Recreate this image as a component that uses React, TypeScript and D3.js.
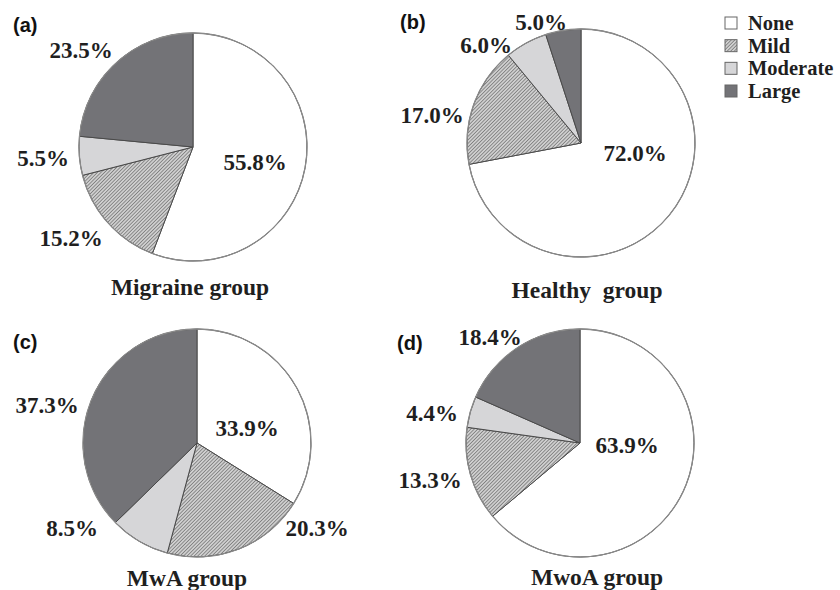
import React from "react";
import * as d3 from "d3";

const categories = ["None", "Mild", "Moderate", "Large"];
const panelTags = ["(a)", "(b)", "(c)", "(d)"];
const groupTitles = ["Migraine group", "Healthy\u00a0\u00a0group", "MwA group", "MwoA group"];
const migraineValues = [55.8, 15.2, 5.5, 23.5];
const healthyValues = [72.0, 17.0, 6.0, 5.0];
const mwaValues = [33.9, 20.3, 8.5, 37.3];
const mwoaValues = [63.9, 13.3, 4.4, 18.4];
const seriesValues = [migraineValues, healthyValues, mwaValues, mwoaValues];

// layout (not data)
const centers: [number, number][] = [
  [193, 147],
  [581, 143],
  [197, 443],
  [580, 443],
];
const radius = 114;
const tagPos: [number, number][] = [
  [13, 25],
  [400, 22],
  [13, 342],
  [397, 343],
];
// label centre offsets from pie centre, per category order
const labelOffsets: [number, number][][] = [
  [[62, 15], [-122, 91], [-150, 11], [-112, -97]],
  [[54, 10], [-149, -28], [-95, -98], [-40, -121]],
  [[50, -15], [120, 85], [-125, 85], [-150, -38]],
  [[47, 2], [-150, 37], [-148, -30], [-90, -106]],
];
const titleOffsets: [number, number][] = [
  [-3, 140],
  [6, 147],
  [-10, 135],
  [17, 134],
];

const fills = ["#ffffff", "url(#hatch)", "#d6d6d8", "#737377"];

export default function App() {
  const pie = d3
    .pie<number>()
    .sort(null)
    .value((d) => d)
    .startAngle(0)
    .endAngle(2 * Math.PI);
  const arc = d3.arc<d3.PieArcDatum<number>>().innerRadius(0).outerRadius(radius);
  const legendY = d3.scaleLinear().domain([0, 3]).range([23, 91]);
  const serif = "'Liberation Serif', 'Times New Roman', serif";
  const sans = "'Liberation Sans', Arial, sans-serif";
  const textColor = "#1f1f1f";

  return (
    <svg
      width={840}
      height={590}
      style={{ position: "absolute", left: 0, top: 0, background: "#fff" }}
    >
      <defs>
        <pattern
          id="hatch"
          patternUnits="userSpaceOnUse"
          width={2.5}
          height={2.5}
          patternTransform="rotate(45)"
        >
          <rect width={2.5} height={2.5} fill="#cfcfcf" />
          <line x1={0} y1={0} x2={0} y2={2.5} stroke="#555" strokeWidth={1.1} />
        </pattern>
      </defs>
      {seriesValues.map((vals, pi) => {
        const [cx, cy] = centers[pi];
        const arcs = pie(vals);
        return (
          <g key={pi}>
            <g transform={`translate(${cx},${cy})`}>
              {arcs.map((a, i) => (
                <path
                  key={i}
                  d={arc(a) || ""}
                  fill={fills[i]}
                  stroke="#4a4a4a"
                  strokeWidth={1}
                />
              ))}
              <circle r={radius} fill="none" stroke="#8a8a8a" strokeWidth={1.3} />
              {arcs.map((a, i) => (
                <text
                  key={"l" + i}
                  x={labelOffsets[pi][i][0]}
                  y={labelOffsets[pi][i][1]}
                  textAnchor="middle"
                  dominantBaseline="central"
                  fontFamily={serif}
                  fontWeight="bold"
                  fontSize={23}
                  fill={textColor}
                >
                  {a.data.toFixed(1) + "%"}
                </text>
              ))}
              <text
                x={titleOffsets[pi][0]}
                y={titleOffsets[pi][1]}
                textAnchor="middle"
                dominantBaseline="central"
                fontFamily={serif}
                fontWeight="bold"
                fontSize={23.5}
                fill={textColor}
              >
                {groupTitles[pi]}
              </text>
            </g>
            <text
              x={tagPos[pi][0]}
              y={tagPos[pi][1]}
              dominantBaseline="central"
              fontFamily={sans}
              fontWeight="bold"
              fontSize={20}
              fill="#111"
            >
              {panelTags[pi]}
            </text>
          </g>
        );
      })}
      <g>
        {categories.map((c, i) => (
          <g key={c} transform={`translate(725,${legendY(i)})`}>
            <rect
              x={0}
              y={-6}
              width={12}
              height={12}
              fill={fills[i]}
              stroke="#666"
              strokeWidth={1}
            />
            <text
              x={23}
              y={0}
              dominantBaseline="central"
              fontFamily={serif}
              fontWeight="bold"
              fontSize={20.5}
              fill={textColor}
            >
              {c}
            </text>
          </g>
        ))}
      </g>
    </svg>
  );
}
